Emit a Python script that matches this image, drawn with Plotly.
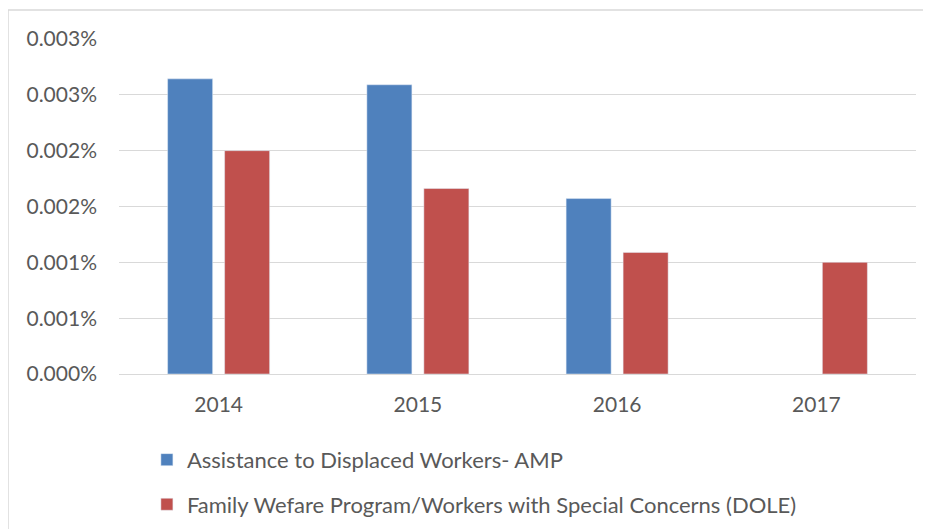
import plotly.graph_objects as go

years = ["2014", "2015", "2016", "2017"]
amp_values = [0.00002643, 0.00002590, 0.00001571, None]
dole_values = [0.00002000, 0.00001661, 0.00001089, 0.00001000]
series_names = ["Assistance to Displaced Workers- AMP",
                "Family Wefare Program/Workers with Special Concerns (DOLE)"]
tick_vals = [0, 0.000005, 0.00001, 0.000015, 0.00002, 0.000025, 0.00003]
tick_text = ["0.000%", "0.001%", "0.001%", "0.002%", "0.002%", "0.003%", "0.003%"]

font_family = "Lato, 'Open Sans', sans-serif"
border = dict(color="#d9d9d9", width=1.5)

fig = go.Figure()
fig.add_trace(go.Bar(x=years, y=amp_values, name=series_names[0],
                     marker=dict(color="#4f81bd"), legendgroup="a"))
fig.add_trace(go.Bar(x=years, y=dole_values, name=series_names[1],
                     marker=dict(color="#c0504d"), legendgroup="b"))

fig.update_layout(
    width=931, height=529,
    margin=dict(l=111, r=23, t=31, b=162),
    paper_bgcolor="white", plot_bgcolor="white",
    font=dict(family=font_family, size=21, color="#595959"),
    barmode="group", bargap=0.428, bargroupgap=0.21,
    showlegend=True,
    legend=dict(orientation="v", x=0.035, y=-0.19, xanchor="left", yanchor="top",
                traceorder="grouped", tracegroupgap=13,
                font=dict(size=22, color="#595959"), itemwidth=30),
    xaxis=dict(showgrid=False, showline=True, linecolor="#d9d9d9", linewidth=1,
               ticks="", tickfont=dict(size=21), ticklabelstandoff=12),
    yaxis=dict(range=[0, 0.00003], tickvals=tick_vals, ticktext=tick_text,
               showgrid=True, gridcolor="#d9d9d9", gridwidth=1, zeroline=False,
               ticks="", tickfont=dict(size=21), ticklabelstandoff=21),
    # outer chart frame: only the top and left edges fall inside the view
    shapes=[
        dict(type="line", xref="paper", yref="paper",
             x0=-111 / 797, x1=1.2, y0=1 + 29 / 336, y1=1 + 29 / 336, line=border),
        dict(type="line", xref="paper", yref="paper",
             x0=-111 / 797, x1=-111 / 797, y0=-0.7, y1=1 + 29 / 336, line=border),
    ],
)

fig.write_html("out.html")
